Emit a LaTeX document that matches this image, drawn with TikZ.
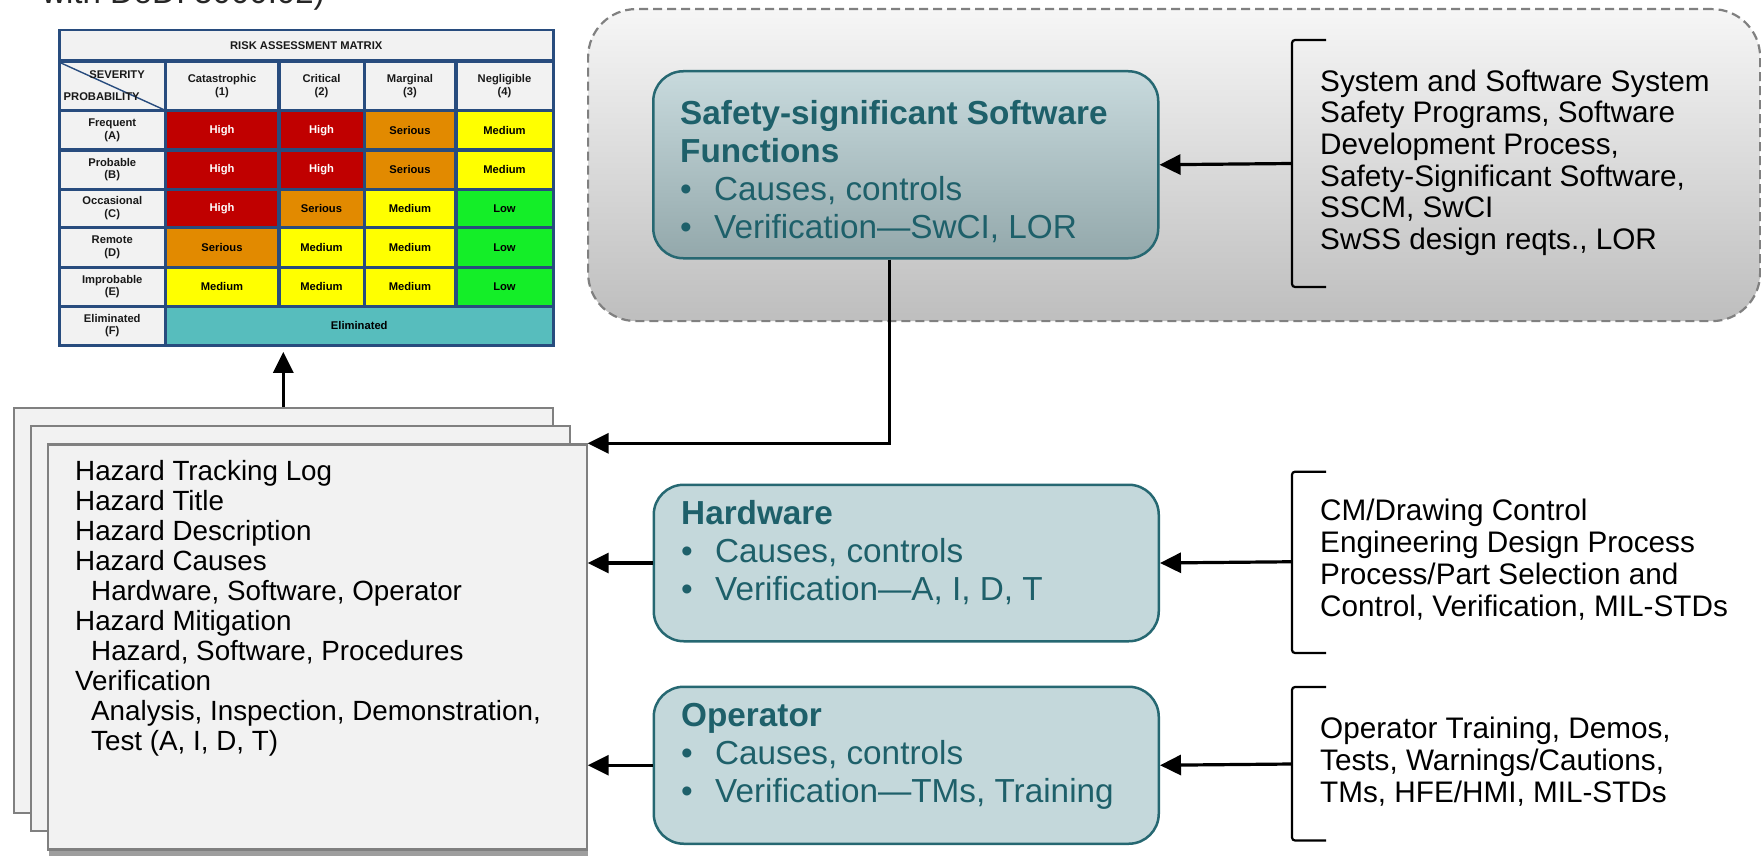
\documentclass[tikz,border=0pt]{standalone}
\usepackage{fontspec}
\setmainfont{Liberation Sans}
\usetikzlibrary{arrows.meta,calc}

\definecolor{gridblue}{RGB}{40,76,126}
\definecolor{riskred}{RGB}{192,0,0}
\definecolor{riskorange}{RGB}{226,138,0}
\definecolor{riskyellow}{RGB}{255,255,0}
\definecolor{riskgreen}{RGB}{20,238,40}
\definecolor{elimteal}{RGB}{87,189,189}
\definecolor{labgray}{RGB}{242,242,242}
\definecolor{pagefill}{RGB}{242,242,242}
\definecolor{pageedge}{RGB}{128,128,128}
\definecolor{boxfill}{RGB}{196,216,219}
\definecolor{boxtop}{RGB}{200,218,221}
\definecolor{boxbottom}{RGB}{147,168,171}
\definecolor{boxedge}{RGB}{38,104,114}
\definecolor{tealtext}{RGB}{30,96,106}
\definecolor{zonetop}{RGB}{246,246,246}
\definecolor{zonebottom}{RGB}{190,190,190}
\definecolor{zoneedge}{RGB}{128,128,128}

% one cell of the risk matrix: name, x1, y1, x2, y2, style, text
\newcommand\rcell[7]{%
  \pgfmathsetmacro\rcW{#4-#2}%
  \pgfmathsetmacro\rcH{#5-#3}%
  \node[cellbase,#6,minimum width=\rcW pt,minimum height=\rcH pt] (#1) at ({(#2+#4)/2},{(#3+#5)/2}) {#7};%
}
\newcommand\bul{\makebox[34pt][l]{•}}

\begin{document}
% multi-line text nodes are placed by the baseline of their last line
\begin{tikzpicture}[x=1pt,y=-1pt,
  cellbase/.style={inner sep=0pt, outer sep=0pt, align=center,
    font=\fontsize{11.2}{12.4}\selectfont\bfseries},
  lab/.style={fill=labgray, text=black!90},
  hi/.style={fill=riskred, text=white},
  se/.style={fill=riskorange, text=black},
  me/.style={fill=riskyellow, text=black},
  lo/.style={fill=riskgreen, text=black},
  el/.style={fill=elimteal, text=black},
  page/.style={draw=pageedge, line width=2.2pt, fill=pagefill, inner sep=0pt,
    minimum width=539pt, minimum height=405pt, anchor=north west},
  zone/.style={draw=zoneedge, line width=2.2pt, dash pattern=on 9pt off 5pt,
    rounded corners=48pt, top color=zonetop, bottom color=zonebottom,
    inner sep=0pt, anchor=north west},
  tealbox/.style={draw=boxedge, line width=2.5pt, rounded corners=30pt,
    inner sep=0pt, anchor=north west, minimum width=505pt},
  boxtext/.style={anchor=base west, align=left, inner sep=0pt, text=tealtext,
    font=\fontsize{33.3}{38}\selectfont},
  sidetext/.style={anchor=base west, align=left, inner sep=0pt, text=black,
    font=\fontsize{29.7}{31.7}\selectfont},
  logtext/.style={anchor=base west, align=left, inner sep=0pt, text=black,
    font=\fontsize{27.8}{30}\selectfont},
  brace/.style={line width=2.2pt, rounded corners=3pt},
  conn/.style={line width=3.2pt, -{Triangle[length=21pt,width=20pt]}}
]
\fill[white] (0,0) rectangle (1761,856);
\useasboundingbox (0,0) rectangle (1761,856);

% heading line running off the top edge
\begin{scope}
  \clip (0,0) rectangle (1761,856);
  \node[anchor=base west, inner sep=0pt, text=black!85,
    font=\fontsize{33}{36}\selectfont] (cutline) at (42,3.5) {with DoDI 5000.02)};
\end{scope}

% ---------------- risk assessment matrix ----------------
\node[fill=gridblue, inner sep=0pt, minimum width=497pt, minimum height=318pt,
  anchor=north west] (mtx) at (57.5,28.5) {};
\rcell{mtitle}{61}{31}{551.5}{59.5}{lab}{RISK ASSESSMENT MATRIX}
\rcell{corner}{61}{63}{163.5}{109.5}{lab}{}
\draw[gridblue, line width=1.4pt] (corner.north west) -- (corner.south east);
\node[anchor=base east, inner sep=0pt, font=\fontsize{11.2}{12.4}\selectfont\bfseries,
  text=black!90] (sev) at (145,78.5) {SEVERITY};
\node[anchor=base west, inner sep=0pt, font=\fontsize{11.2}{12.4}\selectfont\bfseries,
  text=black!90] (prob) at (63.5,101) {PROBABILITY};
\rcell{h1}{167}{63}{277}{109.5}{lab}{Catastrophic\\(1)}
\rcell{h2}{280.5}{63}{362.5}{109.5}{lab}{Critical\\(2)}
\rcell{h3}{366}{63}{454}{109.5}{lab}{Marginal\\(3)}
\rcell{h4}{457.5}{63}{551.5}{109.5}{lab}{Negligible\\(4)}
% Frequent
\rcell{rA}{61}{112.5}{163.5}{148.5}{lab}{Frequent\\(A)}
\rcell{cA1}{167}{112.5}{277}{148.5}{hi}{High}
\rcell{cA2}{280.5}{112.5}{362.5}{148.5}{hi}{High}
\rcell{cA3}{366}{112.5}{454}{148.5}{se}{Serious}
\rcell{cA4}{457.5}{112.5}{551.5}{148.5}{me}{Medium}
% Probable
\rcell{rB}{61}{151.5}{163.5}{187.5}{lab}{Probable\\(B)}
\rcell{cB1}{167}{151.5}{277}{187.5}{hi}{High}
\rcell{cB2}{280.5}{151.5}{362.5}{187.5}{hi}{High}
\rcell{cB3}{366}{151.5}{454}{187.5}{se}{Serious}
\rcell{cB4}{457.5}{151.5}{551.5}{187.5}{me}{Medium}
% Occasional
\rcell{rC}{61}{190.5}{163.5}{226}{lab}{Occasional\\(C)}
\rcell{cC1}{167}{190.5}{277}{226}{hi}{High}
\rcell{cC2}{280.5}{190.5}{362.5}{226}{se}{Serious}
\rcell{cC3}{366}{190.5}{454}{226}{me}{Medium}
\rcell{cC4}{457.5}{190.5}{551.5}{226}{lo}{Low}
% Remote
\rcell{rD}{61}{229}{163.5}{265.5}{lab}{Remote\\(D)}
\rcell{cD1}{167}{229}{277}{265.5}{se}{Serious}
\rcell{cD2}{280.5}{229}{362.5}{265.5}{me}{Medium}
\rcell{cD3}{366}{229}{454}{265.5}{me}{Medium}
\rcell{cD4}{457.5}{229}{551.5}{265.5}{lo}{Low}
% Improbable
\rcell{rE}{61}{268.5}{163.5}{304.5}{lab}{Improbable\\(E)}
\rcell{cE1}{167}{268.5}{277}{304.5}{me}{Medium}
\rcell{cE2}{280.5}{268.5}{362.5}{304.5}{me}{Medium}
\rcell{cE3}{366}{268.5}{454}{304.5}{me}{Medium}
\rcell{cE4}{457.5}{268.5}{551.5}{304.5}{lo}{Low}
% Eliminated
\rcell{rF}{61}{307.5}{163.5}{343.5}{lab}{Eliminated\\(F)}
\rcell{cF}{167}{307.5}{551.5}{343.5}{el}{Eliminated}

% ---------------- software zone ----------------
\node[zone, minimum width=1172pt, minimum height=312pt] (zone) at (587,8) {};
\node[tealbox, top color=boxtop, bottom color=boxbottom, minimum height=187pt]
  (safe) at (652,70) {};
\node[boxtext] (safeT) at (680,238.5)
  {\textbf{Safety-significant Software}\\\textbf{Functions}\\\bul Causes, controls\\\bul Verification—SwCI, LOR};
\draw[brace] (1326,40) -- (1292,40) -- (1292,287) -- (1326,287);
\coordinate (brS) at (1292,163.5);
\node[sidetext] (safeS) at (1320,249.5)
  {System and Software System\\Safety Programs, Software\\Development Process,\\Safety-Significant Software,\\SSCM, SwCI\\SwSS design reqts., LOR};

% ---------------- hardware ----------------
\node[tealbox, fill=boxfill, minimum height=156.5pt] (hw) at (652.5,483.5) {};
\node[boxtext] (hwT) at (681,600)
  {\textbf{Hardware}\\\bul Causes, controls\\\bul Verification—A, I, D, T};
\draw[brace] (1326,471.7) -- (1292,471.7) -- (1292,653) -- (1326,653);
\coordinate (brH) at (1292,561.75);
\node[sidetext] (hwS) at (1320,616)
  {CM/Drawing Control\\Engineering Design Process\\Process/Part Selection and\\Control, Verification, MIL-STDs};

% ---------------- operator ----------------
\node[tealbox, fill=boxfill, minimum height=157pt] (op) at (652.5,685.5) {};
\node[boxtext] (opT) at (681,802)
  {\textbf{Operator}\\\bul Causes, controls\\\bul Verification—TMs, Training};
\draw[brace] (1326,687) -- (1292,687) -- (1292,840.5) -- (1326,840.5);
\coordinate (brO) at (1292,764);
\node[sidetext] (opS) at (1320,802)
  {Operator Training, Demos,\\Tests, Warnings/Cautions,\\TMs, HFE/HMI, MIL-STDs};

% ---------------- hazard tracking log pages ----------------
\node[page] (back) at (12.7,406.5) {};
\node[page] (mid) at (29.7,424.5) {};
\fill[black!38] (49,449) rectangle (587.5,855.5);
\node[page] (front) at (46.5,443.3) {};
\node[logtext] (logT) at (75,750)
  {Hazard Tracking Log\\Hazard Title\\Hazard Description\\Hazard Causes\\
   \hspace*{16pt}Hardware, Software, Operator\\Hazard Mitigation\\
   \hspace*{16pt}Hazard, Software, Procedures\\Verification\\
   \hspace*{16pt}Analysis, Inspection, Demonstration,\\\hspace*{16pt}Test (A, I, D, T)};

% ---------------- connectors ----------------
\draw[conn] (brS) -- (safe.east);
\draw[conn] (brH) -- (hw.east);
\draw[conn] (brO) -- (op.east);
\draw[conn] ([xshift=-16.5pt]safe.south) |- (front.north east);
\draw[conn] (hw.west) -- (hw.west -| front.east);
\draw[conn] (op.west) -- (op.west -| front.east);
\draw[conn, shorten >=5pt] (back.north) -- (back.north |- mtx.south);
\end{tikzpicture}
\end{document}
